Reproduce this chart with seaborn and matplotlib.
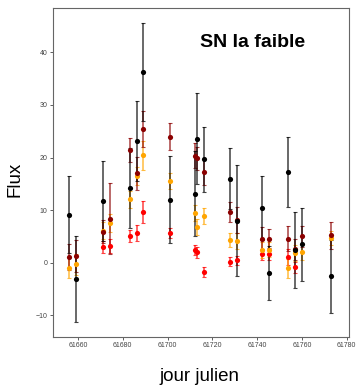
import numpy as np
import pandas as pd
import matplotlib
matplotlib.use("Agg")
import matplotlib.pyplot as plt
import seaborn as sns

nan = np.nan

# epochs (jour julien) and flux per filter
jours = [61656.1, 61659.1, 61671.3, 61674.3, 61683.1, 61686.2, 61689.2, 61701.1,
         61712.1, 61713.1, 61716.1, 61728.0, 61731.1, 61742.0, 61745.1,
         61753.9, 61757.0, 61760.1, 61772.9]

flux_noir = [9.1, -3.1, 11.7, nan, 14.3, 23.1, 36.3, 12.0, 13.1, 23.6, 19.7,
             16.0, 8.0, 10.4, -1.9, 17.3, 2.4, 3.5, -2.6]
err_noir = [7.3, 8.2, 7.6, nan, 7.6, 7.6, 9.3, 8.3, 8.1, 8.6, 6.2,
            5.8, 10.6, 6.0, 5.1, 6.7, 7.2, 7.0, 7.0]

flux_bordeaux = [1.1, 1.3, 5.9, 8.4, 21.4, 17.0, 25.5, 24.0, 20.35, 19.85, 17.3,
                 9.7, 8.1, 4.6, 4.6, 4.6, 2.55, 5.07, 5.2]
err_bordeaux = [2.4, 3.0, 2.2, 6.7, 2.3, 3.2, 3.4, 2.5, 2.4, 2.2, 2.5,
                1.9, 2.5, 2.2, 1.8, 2.4, 2.0, 2.0, 2.5]

flux_orange = [-1.07, -0.3, 6.1, 7.5, 12.05, 16.5, 20.4, 15.5, 9.5, 6.85, 8.9,
               4.3, 4.1, 2.4, 2.5, -1.07, 1.9, 2.1, 4.75]
err_orange = [1.9, 2.0, 1.6, 1.7, 1.6, 1.8, 2.8, 1.5, 1.5, 1.5, 1.6,
              1.3, 1.5, 1.5, 1.5, 1.8, 1.5, 1.5, 1.3]

flux_rouge = [nan, nan, 3.0, 3.2, 5.1, 5.6, 9.6, 5.65, 2.4, 1.97, -1.8,
              0.2, 0.45, 1.6, 1.6, 1.08, -0.88, nan, nan]
err_rouge = [nan, nan, 1.1, 1.4, 1.1, 1.5, 2.1, 1.0, 1.0, 1.0, 1.0,
             0.9, 0.9, 1.0, 1.0, 1.5, 1.0, nan, nan]

bandes = {
    "rouge": (flux_rouge, err_rouge, "red"),
    "orange": (flux_orange, err_orange, "orange"),
    "bordeaux": (flux_bordeaux, err_bordeaux, "darkred"),
    "noir": (flux_noir, err_noir, "black"),
}

frames = []
for nom, (f, e, c) in bandes.items():
    frames.append(pd.DataFrame({"jour": jours, "flux": f, "err": e, "bande": nom}))
df = pd.concat(frames).dropna()

sns.set_theme(style="ticks")
plt.rcParams["font.family"] = ["Liberation Sans", "DejaVu Sans"]
plt.rcParams["text.color"] = "black"
plt.rcParams["axes.labelcolor"] = "black"

fig = plt.figure(figsize=(3.56, 3.85), dpi=100)
ax = fig.add_axes([0.148, 0.125, 0.832, 0.855])

palette = {nom: c for nom, (f, e, c) in bandes.items()}
for nom in bandes:
    d = df[df["bande"] == nom]
    ax.errorbar(d["jour"], d["flux"], yerr=d["err"], fmt="none",
                ecolor=palette[nom], elinewidth=1.1, capsize=1.5, capthick=0.8,
                alpha=0.75, zorder=2)
    sns.scatterplot(data=d, x="jour", y="flux", color=palette[nom], s=14,
                    linewidth=0, ax=ax, zorder=3, legend=False)

ax.set_xlim(61648.7, 61781)
ax.set_ylim(-14.1, 48.5)
ax.set_xticks(np.arange(61660, 61781, 20))
ax.set_yticks([-10, 0, 10, 20, 30, 40])
ax.tick_params(labelsize=5, length=2, width=0.6, pad=2, colors="#444444")
for sp in ax.spines.values():
    sp.set_color("#666666")
    sp.set_linewidth(0.8)

ax.set_xlabel("jour julien", fontsize=13.5)
ax.set_ylabel("Flux", fontsize=13.5)
ax.xaxis.set_label_coords(0.497, -0.095)
ax.yaxis.set_label_coords(-0.10, 0.477)

ax.text(0.674, 0.894, "SN Ia faible", transform=ax.transAxes, fontsize=14,
        fontweight="bold", ha="center", va="center", color="black")

fig.savefig("out.png", dpi=100)
